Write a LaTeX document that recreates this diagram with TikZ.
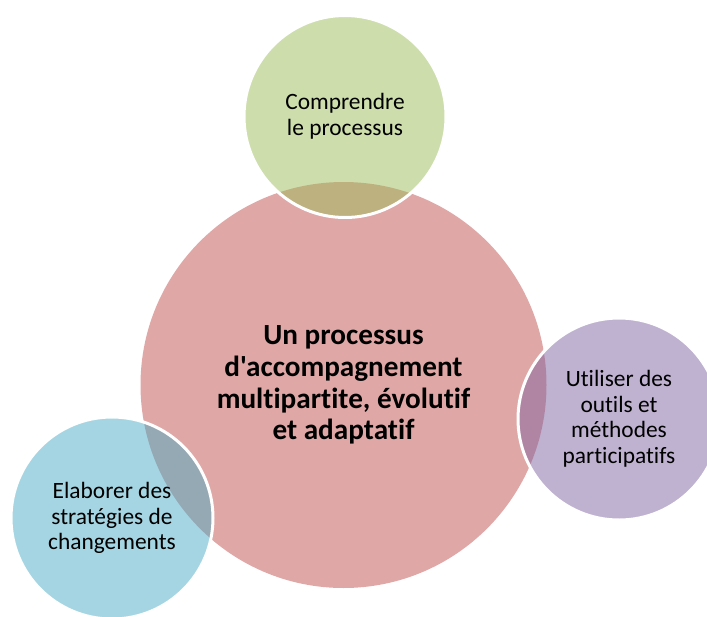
\documentclass[tikz,border=0pt]{standalone}
\usepackage{fontspec}
\setmainfont{Carlito}[Ligatures=NoCommon]
\newfontfamily\plainfont{Carlito}[Ligatures={ResetAll,NoCommon}]
\begin{document}
\begin{tikzpicture}[x=1pt,y=-1pt,
  bubble/.style={circle, inner sep=0pt, minimum size=#1, align=center, text opacity=1, fill opacity=0.5},
  satellite/.style={bubble=202pt, draw=white, draw opacity=1, line width=3pt,
    font=\fontsize{23.4}{25.5}\selectfont},
  hub/.style={bubble=406pt, font=\bfseries\fontsize{29.2}{31.7}\selectfont}]
\definecolor{hubred}{HTML}{C0504D}
\definecolor{satgreen}{HTML}{9BBB59}
\definecolor{satpurple}{HTML}{8064A2}
\definecolor{satblue}{HTML}{4BACC6}
\useasboundingbox (0,0) rectangle (707,616);
\node[hub, fill=hubred] (hub) at (343.5,385) {Un processus\\{\plainfont d'accompagnement}\\multipartite, évolutif\\et adaptatif};
\node[satellite, fill=satgreen] (top) at (345,116.5) {Comprendre\\le processus};
\node[satellite, fill=satpurple] (right) at (619,419) {Utiliser des\\outils et\\méthodes\\participatifs};
\node[satellite, fill=satblue] (left) at (112,518) {Elaborer des\\stratégies de\\changements};
\end{tikzpicture}
\end{document}
